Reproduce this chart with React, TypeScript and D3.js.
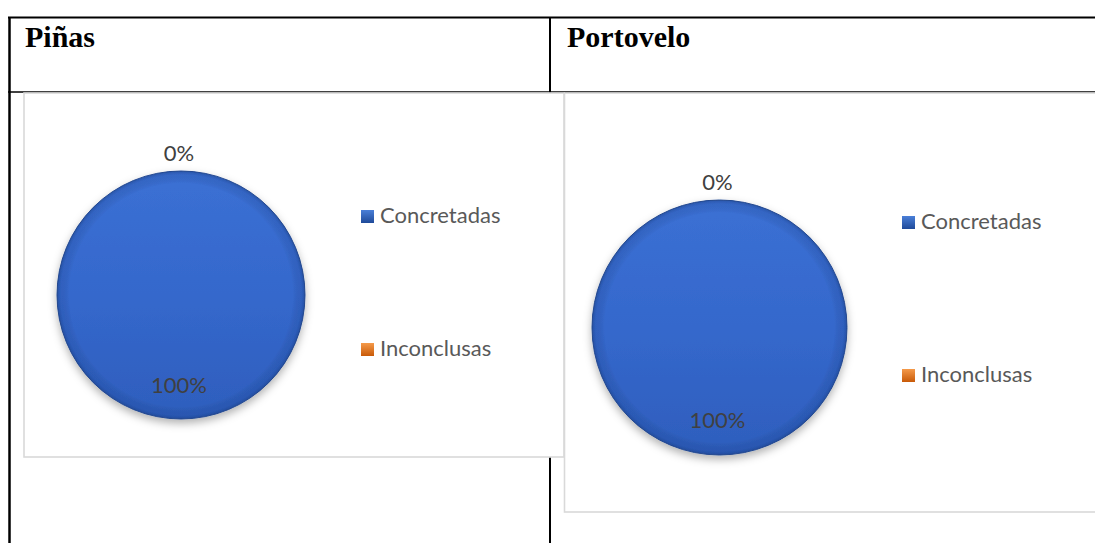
import React from "react";
import * as d3 from "d3";

const categories = ["Concretadas", "Inconclusas"];
const pinasValues = [100, 0];
const portoveloValues = [100, 0];
const panelTitles = ["Piñas", "Portovelo"];
const seriesColors = ["#3568cc", "#e46c0a"];

type Panel = {
  title: string;
  values: number[];
  titleX: number;
  box: { x: number; y: number; w: number; h: number };
  cx: number;
  cy: number;
  r: number;
  legendX: number;
  legendY: number[];
};

const W = 1095;
const H = 543;

const panels: Panel[] = [
  {
    title: panelTitles[0],
    values: pinasValues,
    titleX: 25,
    box: { x: 24, y: 93, w: 540, h: 364 },
    cx: 181,
    cy: 295,
    r: 124,
    legendX: 361,
    legendY: [223, 356],
  },
  {
    title: panelTitles[1],
    values: portoveloValues,
    titleX: 567,
    box: { x: 564.5, y: 93, w: 560, h: 419 },
    cx: 719.5,
    cy: 327.5,
    r: 127.5,
    legendX: 902,
    legendY: [229, 382],
  },
];

function PiePanel({ p, idx }: { p: Panel; idx: number }) {
  const total = d3.sum(p.values);
  const pie = d3.pie<number>().sort(null).value((d) => d)(p.values);
  const arc = d3.arc<d3.PieArcDatum<number>>().innerRadius(0).outerRadius(p.r);
  const fmt = d3.format(".0%");
  return (
    <g>
      <rect
        x={p.box.x}
        y={p.box.y}
        width={p.box.w}
        height={p.box.h}
        fill="#ffffff"
        stroke="#d9d9d9"
        strokeWidth={1.6}
      />
      <g transform={`translate(${p.cx},${p.cy})`}>
        {pie.map((s, i) =>
          s.endAngle - s.startAngle > 0.0001 ? (
            <g key={i} filter="url(#pieShadow)">
              <path
                d={arc(s) || ""}
                fill={i === 0 ? "url(#blueFill)" : "url(#orangeFill)"}
                stroke="#2a4f97"
                strokeWidth={1}
              />
              <path d={arc(s) || ""} fill="url(#bevel)" />
            </g>
          ) : null
        )}
        {pie.map((s, i) => {
          const frac = s.value / total;
          const mid = (s.startAngle + s.endAngle) / 2;
          if (frac >= 0.999) {
            return (
              <text
                key={"l" + i}
                x={-2}
                y={p.r * 0.79}
                textAnchor="middle"
                fontFamily="Lato, 'Open Sans', sans-serif"
                fontSize={22}
                fill="#404040"
              >
                {fmt(frac)}
              </text>
            );
          }
          const lr = p.r + 10;
          return (
            <text
              key={"l" + i}
              x={Math.sin(mid) * lr - 2}
              y={-Math.cos(mid) * lr}
              textAnchor="middle"
              fontFamily="Lato, 'Open Sans', sans-serif"
              fontSize={22}
              fill="#404040"
            >
              {fmt(frac)}
            </text>
          );
        })}
      </g>
      {categories.map((c, i) => (
        <g key={c}>
          <rect
            x={p.legendX}
            y={p.legendY[i] - 13}
            width={13}
            height={13}
            fill={i === 0 ? "url(#legBlue)" : "url(#legOrange)"}
          />
          <text
            x={p.legendX + 19}
            y={p.legendY[i]}
            fontFamily="Lato, 'Open Sans', sans-serif"
            fontSize={22}
            fill="#595959"
          >
            {c}
          </text>
        </g>
      ))}
    </g>
  );
}

export default function App() {
  return (
    <svg
      width={W}
      height={H}
      style={{ position: "absolute", left: 0, top: 0, background: "#ffffff" }}
    >
      <defs>
        <linearGradient id="blueFill" x1="0" y1="0" x2="0" y2="1">
          <stop offset="0" stopColor="#3b70d4" />
          <stop offset="0.5" stopColor={seriesColors[0]} />
          <stop offset="1" stopColor="#2e5ebd" />
        </linearGradient>
        <linearGradient id="orangeFill" x1="0" y1="0" x2="0" y2="1">
          <stop offset="0" stopColor="#f28a3a" />
          <stop offset="1" stopColor={seriesColors[1]} />
        </linearGradient>
        <radialGradient id="bevel" cx="0.5" cy="0.5" r="0.5">
          <stop offset="0.9" stopColor="#000000" stopOpacity={0} />
          <stop offset="0.97" stopColor="#10306e" stopOpacity={0.15} />
          <stop offset="1" stopColor="#10306e" stopOpacity={0.4} />
        </radialGradient>
        <linearGradient id="legBlue" x1="0" y1="0" x2="0" y2="1">
          <stop offset="0" stopColor="#4a7fd8" />
          <stop offset="1" stopColor="#1f4a99" />
        </linearGradient>
        <linearGradient id="legOrange" x1="0" y1="0" x2="0" y2="1">
          <stop offset="0" stopColor="#f59a4a" />
          <stop offset="1" stopColor="#c85a08" />
        </linearGradient>
        <filter id="pieShadow" x="-20%" y="-20%" width="140%" height="140%">
          <feDropShadow dx="0" dy="4" stdDeviation="4" floodColor="#000" floodOpacity="0.3" />
        </filter>
      </defs>
      {/* table lines */}
      <line x1={8} y1={17.5} x2={W} y2={17.5} stroke="#000" strokeWidth={2} />
      <line x1={9.5} y1={17} x2={9.5} y2={H} stroke="#000" strokeWidth={2.5} />
      <line x1={8} y1={92} x2={W} y2={92} stroke="#000" strokeWidth={1.6} />
      <line x1={550} y1={17} x2={550} y2={H} stroke="#000" strokeWidth={2} />
      {panels.map((p, i) => (
        <text
          key={"t" + i}
          x={p.titleX}
          y={47}
          fontFamily="'Liberation Serif', 'Times New Roman', serif"
          fontWeight="bold"
          fontSize={30}
          fill="#000"
        >
          {p.title}
        </text>
      ))}
      {panels.map((p, i) => (
        <PiePanel key={i} p={p} idx={i} />
      ))}
    </svg>
  );
}
